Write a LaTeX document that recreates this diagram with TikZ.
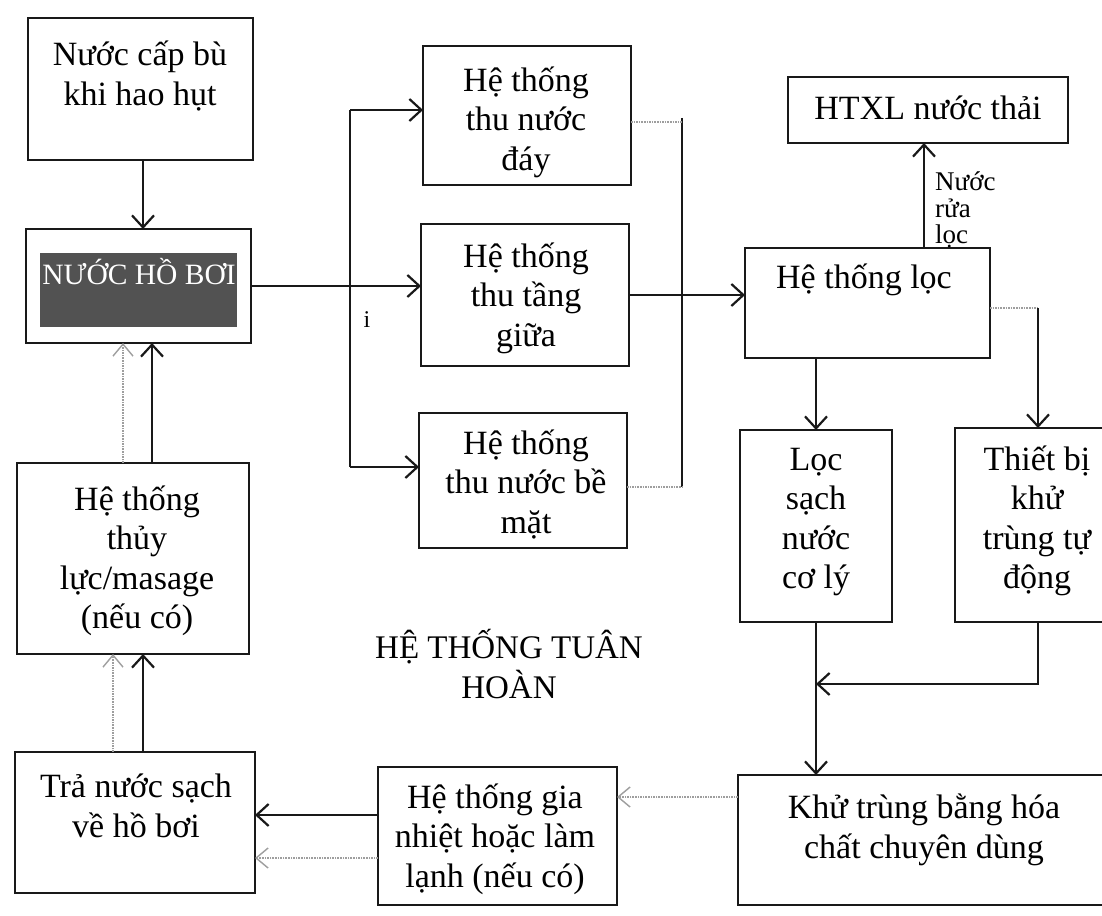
\documentclass[tikz,border=0pt]{standalone}
\usepackage{fontspec}
\setmainfont{Liberation Serif}
\usetikzlibrary{arrows.meta,calc}
\begin{document}
\begin{tikzpicture}[x=1pt,y=-1pt,
  box/.style={draw=black!90, line width=2pt, inner sep=0pt, outer sep=0pt, fill=none},
  txt/.style={align=center, inner sep=0pt, font=\fontsize{34}{39.5}\selectfont},
  small/.style={align=left, inner sep=0pt, font=\fontsize{27}{26.5}\selectfont},
  ln/.style={line width=2.2pt, draw=black!90, line join=miter},
  arr/.style={ln, -{Straight Barb[length=12pt,width=22pt]}},
  dotln/.style={line width=1.6pt, draw=black!38, densely dotted},
  darr/.style={dotln, -{Straight Barb[length=12pt,width=20pt,line width=1.4pt]}}]
\useasboundingbox (0,0) rectangle (1102,915);
\clip (0,0) rectangle (1102,915);
\fill[white] (0,0) rectangle (1102,915);

% boxes
\node[box, minimum width=225pt, minimum height=142pt] (b1) at (140.5,89) {};
\node[box, minimum width=225pt, minimum height=114pt] (b2) at (138.5,286) {};
\node[fill=black!68, inner sep=0pt, minimum width=197pt, minimum height=74pt] (b2in) at (138.5,290) {};
\node[box, minimum width=208pt, minimum height=139pt] (b3) at (527,115.5) {};
\node[box, minimum width=208pt, minimum height=142pt] (b4) at (525,295) {};
\node[box, minimum width=208pt, minimum height=135pt] (b5) at (523,480.5) {};
\node[box, minimum width=280pt, minimum height=66pt] (b6) at (928,110) {};
\node[box, minimum width=245pt, minimum height=110pt] (b7) at (867.5,303) {};
\node[box, minimum width=152pt, minimum height=192pt] (b8) at (816,526) {};
\node[box, minimum width=165pt, minimum height=194pt] (b9) at (1037.5,525) {};
\node[box, minimum width=374pt, minimum height=130pt] (b10) at (925,840) {};
\node[box, minimum width=239pt, minimum height=138pt] (b11) at (497.5,836) {};
\node[box, minimum width=240pt, minimum height=141pt] (b12) at (135,822.5) {};
\node[box, minimum width=232pt, minimum height=191pt] (b13) at (133,558.5) {};

% texts
\node[txt] (t1) at (140,76) {Nước cấp bù\\khi hao hụt};
\node[txt, text=white, font=\fontsize{29.5}{30}\selectfont] (t2) at (139,272) {NƯỚC HỒ BƠI};
\node[txt] (t3) at (526,122) {Hệ thống\\thu nước\\đáy};
\node[txt] (t4) at (526,298) {Hệ thống\\thu tầng\\giữa};
\node[txt] (t5) at (526,484) {Hệ thống\\thu nước bề\\mặt};
\node[txt] (t6) at (928,108) {HTXL nước thải};
\node[txt] (t7) at (864,280) {Hệ thống lọc};
\node[txt] (t8) at (816,522) {Lọc\\sạch\\nước\\cơ lý};
\node[txt] (t9) at (1037,521) {Thiết bị\\khử\\trùng tự\\động};
\node[txt] (t10) at (924,830) {Khử trùng bằng hóa\\chất chuyên dùng};
\node[txt] (t11) at (495,839) {Hệ thống gia\\nhiệt hoặc làm\\lạnh (nếu có)};
\node[txt] (t12) at (136,806) {Trả nước sạch\\về hồ bơi};
\node[txt] (t13) at (137,561) {Hệ thống\\thủy\\lực/masage\\(nếu có)};
\node[txt, font=\fontsize{33}{40}\selectfont] (title) at (509,664) {HỆ THỐNG TUÂN\\HOÀN};
\node[small, anchor=west] (lbl) at (935,210) {Nước\\rửa\\lọc};
\node[inner sep=0pt, font=\fontsize{24}{24}\selectfont] (ii) at (367,320) {i};

% coordinates
\coordinate (a1) at (143,0);
\coordinate (bt) at (350,110);
\coordinate (bb) at (350,467);
\coordinate (ct) at (682,118);
\coordinate (cb) at (682,487);
\coordinate (c3) at (682,122);
\coordinate (w) at (924,0);
\coordinate (k) at (1038,308);
\coordinate (m) at (1038,684);
\coordinate (y10) at (0,797);
\coordinate (y11a) at (0,815);
\coordinate (y11b) at (0,858);
\coordinate (xs12) at (143,0);
\coordinate (xd12) at (113,0);
\coordinate (xs13) at (152,0);
\coordinate (xd13) at (123,0);

% connectors
\draw[arr] (b1.south -| a1) -- (b2.north -| a1);
\draw[arr] (b2.east) -- (b2.east -| b4.west);
\draw[ln] (bt) -- (bb);
\draw[arr] (bt) -- (bt -| b3.west);
\draw[arr] (bb) -- (bb -| b5.west);
\draw[ln] (ct) -- (cb);
\draw[dotln] (c3 -| b3.east) -- (c3);
\draw[dotln] (cb -| b5.east) -- (cb);
\draw[arr] (b4.east) -- (b4.east -| b7.west);
\draw[arr] (b7.north -| w) -- (b6.south -| w);
\draw[dotln] (k -| b7.east) -- (k);
\draw[arr] (k) -- (k |- b9.north);
\draw[arr] (b7.south -| b8.north) -- (b8.north);
\draw[arr] (b8.south) -- (b8.south |- b10.north);
\draw[arr] (b9.south -| m) -- (m) -- (m -| b8.south);
\draw[darr] (b10.west |- y10) -- (b11.east |- y10);
\draw[arr] (b11.west |- y11a) -- (b12.east |- y11a);
\draw[darr] (b11.west |- y11b) -- (b12.east |- y11b);
\draw[arr] (b12.north -| xs12) -- (b13.south -| xs12);
\draw[darr] (b12.north -| xd12) -- (b13.south -| xd12);
\draw[arr] (b13.north -| xs13) -- (b2.south -| xs13);
\draw[darr] (b13.north -| xd13) -- (b2.south -| xd13);
\end{tikzpicture}
\end{document}
